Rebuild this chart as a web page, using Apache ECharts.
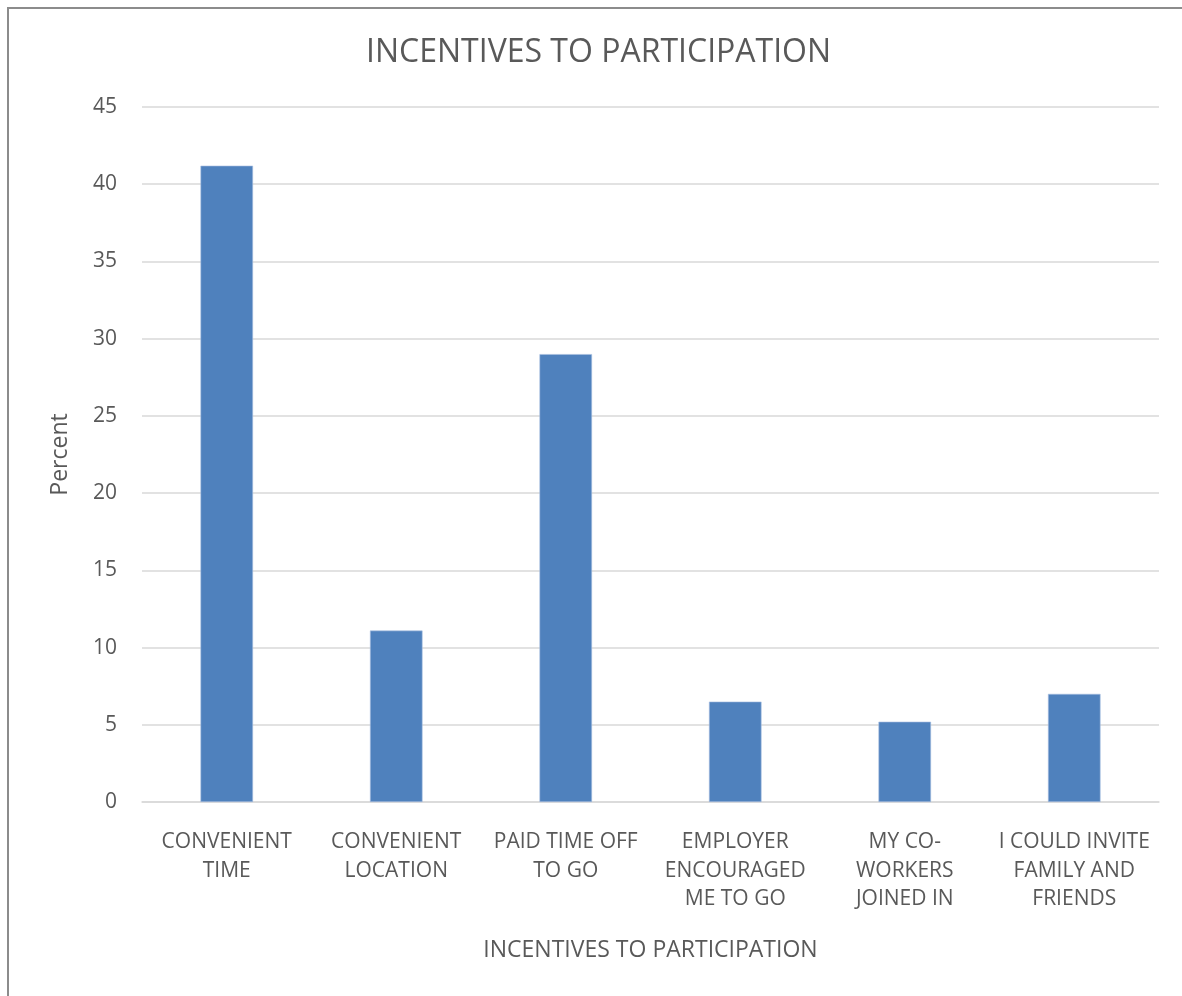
<!DOCTYPE html>
<html>
<head>
<meta charset="utf-8">
<script src="https://cdn.jsdelivr.net/npm/echarts@6/dist/echarts.min.js"></script>
<style>
html,body{margin:0;padding:0;background:#fff;}
#frame{position:absolute;left:7px;top:7px;width:1300px;height:1100px;border-left:2px solid #8c8c8c;border-top:2px solid #8c8c8c;box-sizing:border-box;}
#chart{position:absolute;left:0;top:0;width:1182px;height:996px;}
</style>
</head>
<body>
<div id="frame"></div>
<div id="chart"></div>
<script>
const categories = [
  "CONVENIENT\nTIME",
  "CONVENIENT\nLOCATION",
  "PAID TIME OFF\nTO GO",
  "EMPLOYER\nENCOURAGED\nME TO GO",
  "MY CO-\nWORKERS\nJOINED IN",
  "I COULD INVITE\nFAMILY AND\nFRIENDS"
];
const percentValues = [41.2, 11.1, 29.0, 6.5, 5.2, 7.0];
const yTicks = [0, 5, 10, 15, 20, 25, 30, 35, 40, 45];

const FONT = "'Open Sans', 'Noto Sans', sans-serif";
const chart = echarts.init(document.getElementById('chart'), null, {renderer: 'canvas'});
chart.setOption({
  animation: false,
  backgroundColor: 'transparent',
  title: {
    text: 'INCENTIVES TO PARTICIPATION',
    left: 361,
    top: 32,
    textStyle: {fontFamily: FONT, fontSize: 32, fontWeight: 'normal', color: '#595959'}
  },
  grid: {left: 142, right: 23, top: 107, bottom: 194, containLabel: false},
  xAxis: {
    type: 'category',
    data: categories,
    name: 'INCENTIVES TO PARTICIPATION',
    nameLocation: 'middle',
    nameGap: 137,
    nameTextStyle: {fontFamily: FONT, fontSize: 23, color: '#595959'},
    axisLine: {show: true, lineStyle: {color: '#d9d9d9', width: 1.5}},
    axisTick: {show: false},
    axisLabel: {fontFamily: FONT, fontSize: 21, color: '#595959', lineHeight: 28.5, margin: 26, interval: 0},
    splitLine: {show: false}
  },
  yAxis: {
    type: 'value',
    min: yTicks[0],
    max: yTicks[yTicks.length - 1],
    interval: yTicks[1] - yTicks[0],
    name: 'Percent',
    nameLocation: 'middle',
    nameGap: 70,
    nameTextStyle: {fontFamily: FONT, fontSize: 23, color: '#595959'},
    axisLine: {show: false},
    axisTick: {show: false},
    axisLabel: {fontFamily: FONT, fontSize: 21, color: '#595959', margin: 25},
    splitLine: {show: true, lineStyle: {color: '#d9d9d9', width: 1.5}}
  },
  series: [{
    type: 'bar',
    data: percentValues,
    barWidth: '31%',
    itemStyle: {color: '#4f81bd', borderColor: '#a9c0e0', borderWidth: 0.6}
  }]
});
</script>
</body>
</html>
